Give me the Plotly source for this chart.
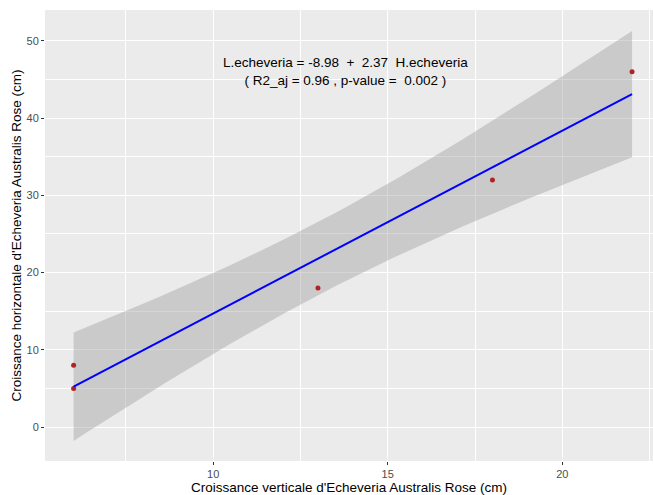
import numpy as np
import plotly.graph_objects as go

# Data
h_echeveria = [6, 6, 13, 18, 22]      # croissance verticale (cm)
l_echeveria = [5, 8, 18, 32, 46]      # croissance horizontale (cm)

x_ticks = [10, 15, 20]
y_ticks = [0, 10, 20, 30, 40, 50]

eq_line1 = "L.echeveria = -8.98\u00a0 +\u00a0 2.37\u00a0 H.echeveria"
eq_line2 = "( R2_aj = 0.96 , p-value =\u00a0 0.002 )"

# Linear model + 95% confidence band (as geom_smooth(method='lm'))
x = np.array(h_echeveria, float)
y = np.array(l_echeveria, float)
n = len(x)
slope, intercept = np.polyfit(x, y, 1)
resid = y - (intercept + slope * x)
s = np.sqrt(np.sum(resid ** 2) / (n - 2))
sxx = np.sum((x - x.mean()) ** 2)
t975 = 3.182446  # qt(0.975, df=3)
xs = np.linspace(x.min(), x.max(), 80)
fit = intercept + slope * xs
se = s * np.sqrt(1 / n + (xs - x.mean()) ** 2 / sxx)
upper = fit + t975 * se
lower = fit - t975 * se

fig = go.Figure()
fig.add_trace(go.Scatter(
    x=np.concatenate([xs, xs[::-1]]), y=np.concatenate([upper, lower[::-1]]),
    fill="toself", fillcolor="rgba(153,153,153,0.4)", line=dict(width=0),
    mode="lines", hoverinfo="skip", showlegend=False))
fig.add_trace(go.Scatter(x=x, y=y, mode="markers",
                         marker=dict(color="#B22222", size=5), showlegend=False))
fig.add_trace(go.Scatter(x=xs, y=fit, mode="lines",
                         line=dict(color="#0000FF", width=2), showlegend=False))

fig.add_annotation(x=13.8, y=46, xref="x", yref="y",
                   text=eq_line1 + "<br>" + eq_line2, showarrow=False,
                   font=dict(family="Liberation Sans, Arial", size=13.5, color="black"),
                   align="center")

axis_common = dict(
    showgrid=True, gridcolor="white", gridwidth=1.1,
    zeroline=False, showline=False, automargin=False,
    ticks="outside", ticklen=3, tickwidth=1, tickcolor="#333333",
    tickfont=dict(family="Liberation Sans, Arial", size=11, color="#4D4D4D"),
)

fig.update_layout(
    width=653, height=495,
    paper_bgcolor="white", plot_bgcolor="#EBEBEB",
    margin=dict(l=45, r=0, t=10, b=34),
    font=dict(family="Liberation Sans, Arial", color="black"),
    xaxis=dict(**axis_common, range=[5.18, 22.6], tickvals=x_ticks,
               minor=dict(tickvals=[7.5, 12.5, 17.5, 22.5], showgrid=True,
                          gridcolor="white", gridwidth=0.5, ticks=""),
               title=dict(text="Croissance verticale d'Echeveria Australis Rose (cm)",
                          font=dict(size=13.5, color="black"), standoff=2)),
    yaxis=dict(**axis_common, range=[-4.4, 54.0], tickvals=y_ticks,
               minor=dict(tickvals=[5, 15, 25, 35, 45], showgrid=True,
                          gridcolor="white", gridwidth=0.5, ticks=""),
               title=dict(text="Croissance horizontale d'Echeveria Australis Rose (cm)",
                          font=dict(size=13.5, color="black"), standoff=1)),
)

# remove the page's default body margin so the figure fills the window
fig.write_html("out.html", config={"displayModeBar": False},
               post_script="document.body.style.margin='0';document.body.style.overflow='hidden';")
